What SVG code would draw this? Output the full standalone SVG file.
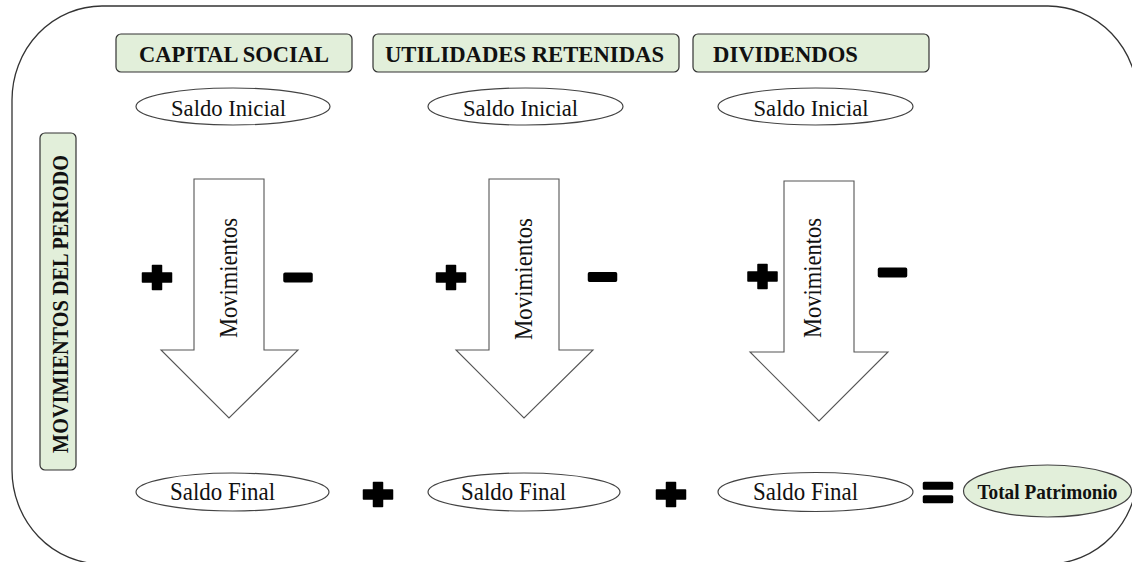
<svg xmlns="http://www.w3.org/2000/svg" width="1132" height="562" viewBox="0 0 1132 562" font-family="Liberation Serif, serif">
<style>
.frame{fill:none;stroke:#333;stroke-width:1.3}
.hdr{fill:#E2EFDA;stroke:#333;stroke-width:1.2}
.ell{fill:#fff;stroke:#444;stroke-width:1.2}
.tot{fill:#E2EFDA;stroke:#444;stroke-width:1.2}
.arr{fill:#fff;stroke:#555;stroke-width:1.1}
.b{font-family:'Liberation Serif',serif;font-weight:bold;fill:#111}
.r{font-family:'Liberation Serif',serif;fill:#111}
.sym{fill:#000;stroke:#000;stroke-width:1.5;stroke-linejoin:round}
</style>
<defs>
<path id="plus" d="M-4.5,-12 H4.5 V-4.5 H14.5 V4.5 H4.5 V12 H-4.5 V4.5 H-14.5 V-4.5 H-4.5 Z"/>
<rect id="minus" x="-14" y="-4.2" width="28" height="8.4" rx="1"/>
</defs>
<rect width="1132" height="562" fill="#fff"/>
<g id="frame">
<rect class="frame" x="12" y="6" width="1126" height="558" rx="90" ry="94"/>
</g>
<g id="capital-social">
<rect class="hdr" x="116" y="34" width="236" height="38" rx="5"/>
<text class="b" x="234" y="62" font-size="24" text-anchor="middle" textLength="190" lengthAdjust="spacingAndGlyphs">CAPITAL SOCIAL</text>
</g>
<g id="utilidades-retenidas">
<rect class="hdr" x="373" y="34" width="306" height="38" rx="5"/>
<text class="b" x="524.5" y="62" font-size="24" text-anchor="middle" textLength="279" lengthAdjust="spacingAndGlyphs">UTILIDADES  RETENIDAS</text>
</g>
<g id="dividendos">
<rect class="hdr" x="693" y="34" width="236" height="38" rx="5"/>
<text class="b" x="713" y="62" font-size="24" textLength="145" lengthAdjust="spacingAndGlyphs">DIVIDENDOS</text>
</g>
<g id="saldo-inicial-1">
<ellipse class="ell" cx="233" cy="106.5" rx="97" ry="18.5"/>
<text class="r" x="228.5" y="116" font-size="24" text-anchor="middle" textLength="115" lengthAdjust="spacingAndGlyphs">Saldo Inicial</text>
</g>
<g id="saldo-inicial-2">
<ellipse class="ell" cx="525.5" cy="106.5" rx="97.5" ry="18.5"/>
<text class="r" x="520.5" y="116" font-size="24" text-anchor="middle" textLength="115" lengthAdjust="spacingAndGlyphs">Saldo Inicial</text>
</g>
<g id="saldo-inicial-3">
<ellipse class="ell" cx="815.5" cy="106.5" rx="97.5" ry="18.5"/>
<text class="r" x="811" y="116" font-size="24" text-anchor="middle" textLength="115" lengthAdjust="spacingAndGlyphs">Saldo Inicial</text>
</g>
<g id="movimientos-del-periodo">
<rect class="hdr" x="40" y="133" width="36" height="337" rx="5"/>
<text class="b" transform="translate(68,304) rotate(-90)" x="0" y="0" font-size="23.5" text-anchor="middle" textLength="298" lengthAdjust="spacingAndGlyphs">MOVIMIENTOS  DEL PERIODO</text>
</g>
<g id="connectors">
<g id="arrow-1">
<path class="arr" d="M194,179 H264 V350 H298 L229,418 L161,350 H194 Z"/>
<text class="r" transform="translate(237,278) rotate(-90)" font-size="25" text-anchor="middle" textLength="120" lengthAdjust="spacingAndGlyphs">Movimientos</text>
</g>
<g id="arrow-2">
<path class="arr" d="M489,179 H559 V350 H593 L524,418 L456,350 H489 Z"/>
<text class="r" transform="translate(532,279) rotate(-90)" font-size="25" text-anchor="middle" textLength="122" lengthAdjust="spacingAndGlyphs">Movimientos</text>
</g>
<g id="arrow-3">
<path class="arr" d="M784,181 H854 V352 H888 L819,421 L750,352 H784 Z"/>
<text class="r" transform="translate(821,278) rotate(-90)" font-size="25" text-anchor="middle" textLength="120" lengthAdjust="spacingAndGlyphs">Movimientos</text>
</g>
</g>
<g id="signs">
<use href="#plus" class="sym" x="157" y="277.5"/>
<use href="#minus" class="sym" x="298" y="277.5"/>
<use href="#plus" class="sym" x="451" y="277.5"/>
<use href="#minus" class="sym" x="602.5" y="277"/>
<use href="#plus" class="sym" x="762.5" y="276.5"/>
<use href="#minus" class="sym" x="892.5" y="272.5"/>
<use href="#plus" class="sym" x="378" y="494.5"/>
<use href="#plus" class="sym" x="671" y="494.5"/>
<rect class="sym" x="923.5" y="482.5" width="29" height="6.5" rx="0.8"/>
<rect class="sym" x="923.5" y="496" width="29" height="6.5" rx="0.8"/>
</g>
<g id="saldo-final-1">
<ellipse class="ell" cx="232.5" cy="492" rx="96.5" ry="19"/>
<text class="r" x="222.5" y="500" font-size="24.5" text-anchor="middle" textLength="105" lengthAdjust="spacingAndGlyphs">Saldo Final</text>
</g>
<g id="saldo-final-2">
<ellipse class="ell" cx="524" cy="492" rx="96" ry="19"/>
<text class="r" x="513.5" y="500" font-size="24.5" text-anchor="middle" textLength="105" lengthAdjust="spacingAndGlyphs">Saldo Final</text>
</g>
<g id="saldo-final-3">
<ellipse class="ell" cx="815.5" cy="492" rx="97.5" ry="19.5"/>
<text class="r" x="805.5" y="500" font-size="24.5" text-anchor="middle" textLength="105" lengthAdjust="spacingAndGlyphs">Saldo Final</text>
</g>
<g id="total-patrimonio">
<ellipse class="tot" cx="1047.5" cy="491" rx="84" ry="26"/>
<text class="b" x="1047.5" y="499" font-size="21" text-anchor="middle" textLength="140" lengthAdjust="spacingAndGlyphs">Total Patrimonio</text>
</g>
</svg>
